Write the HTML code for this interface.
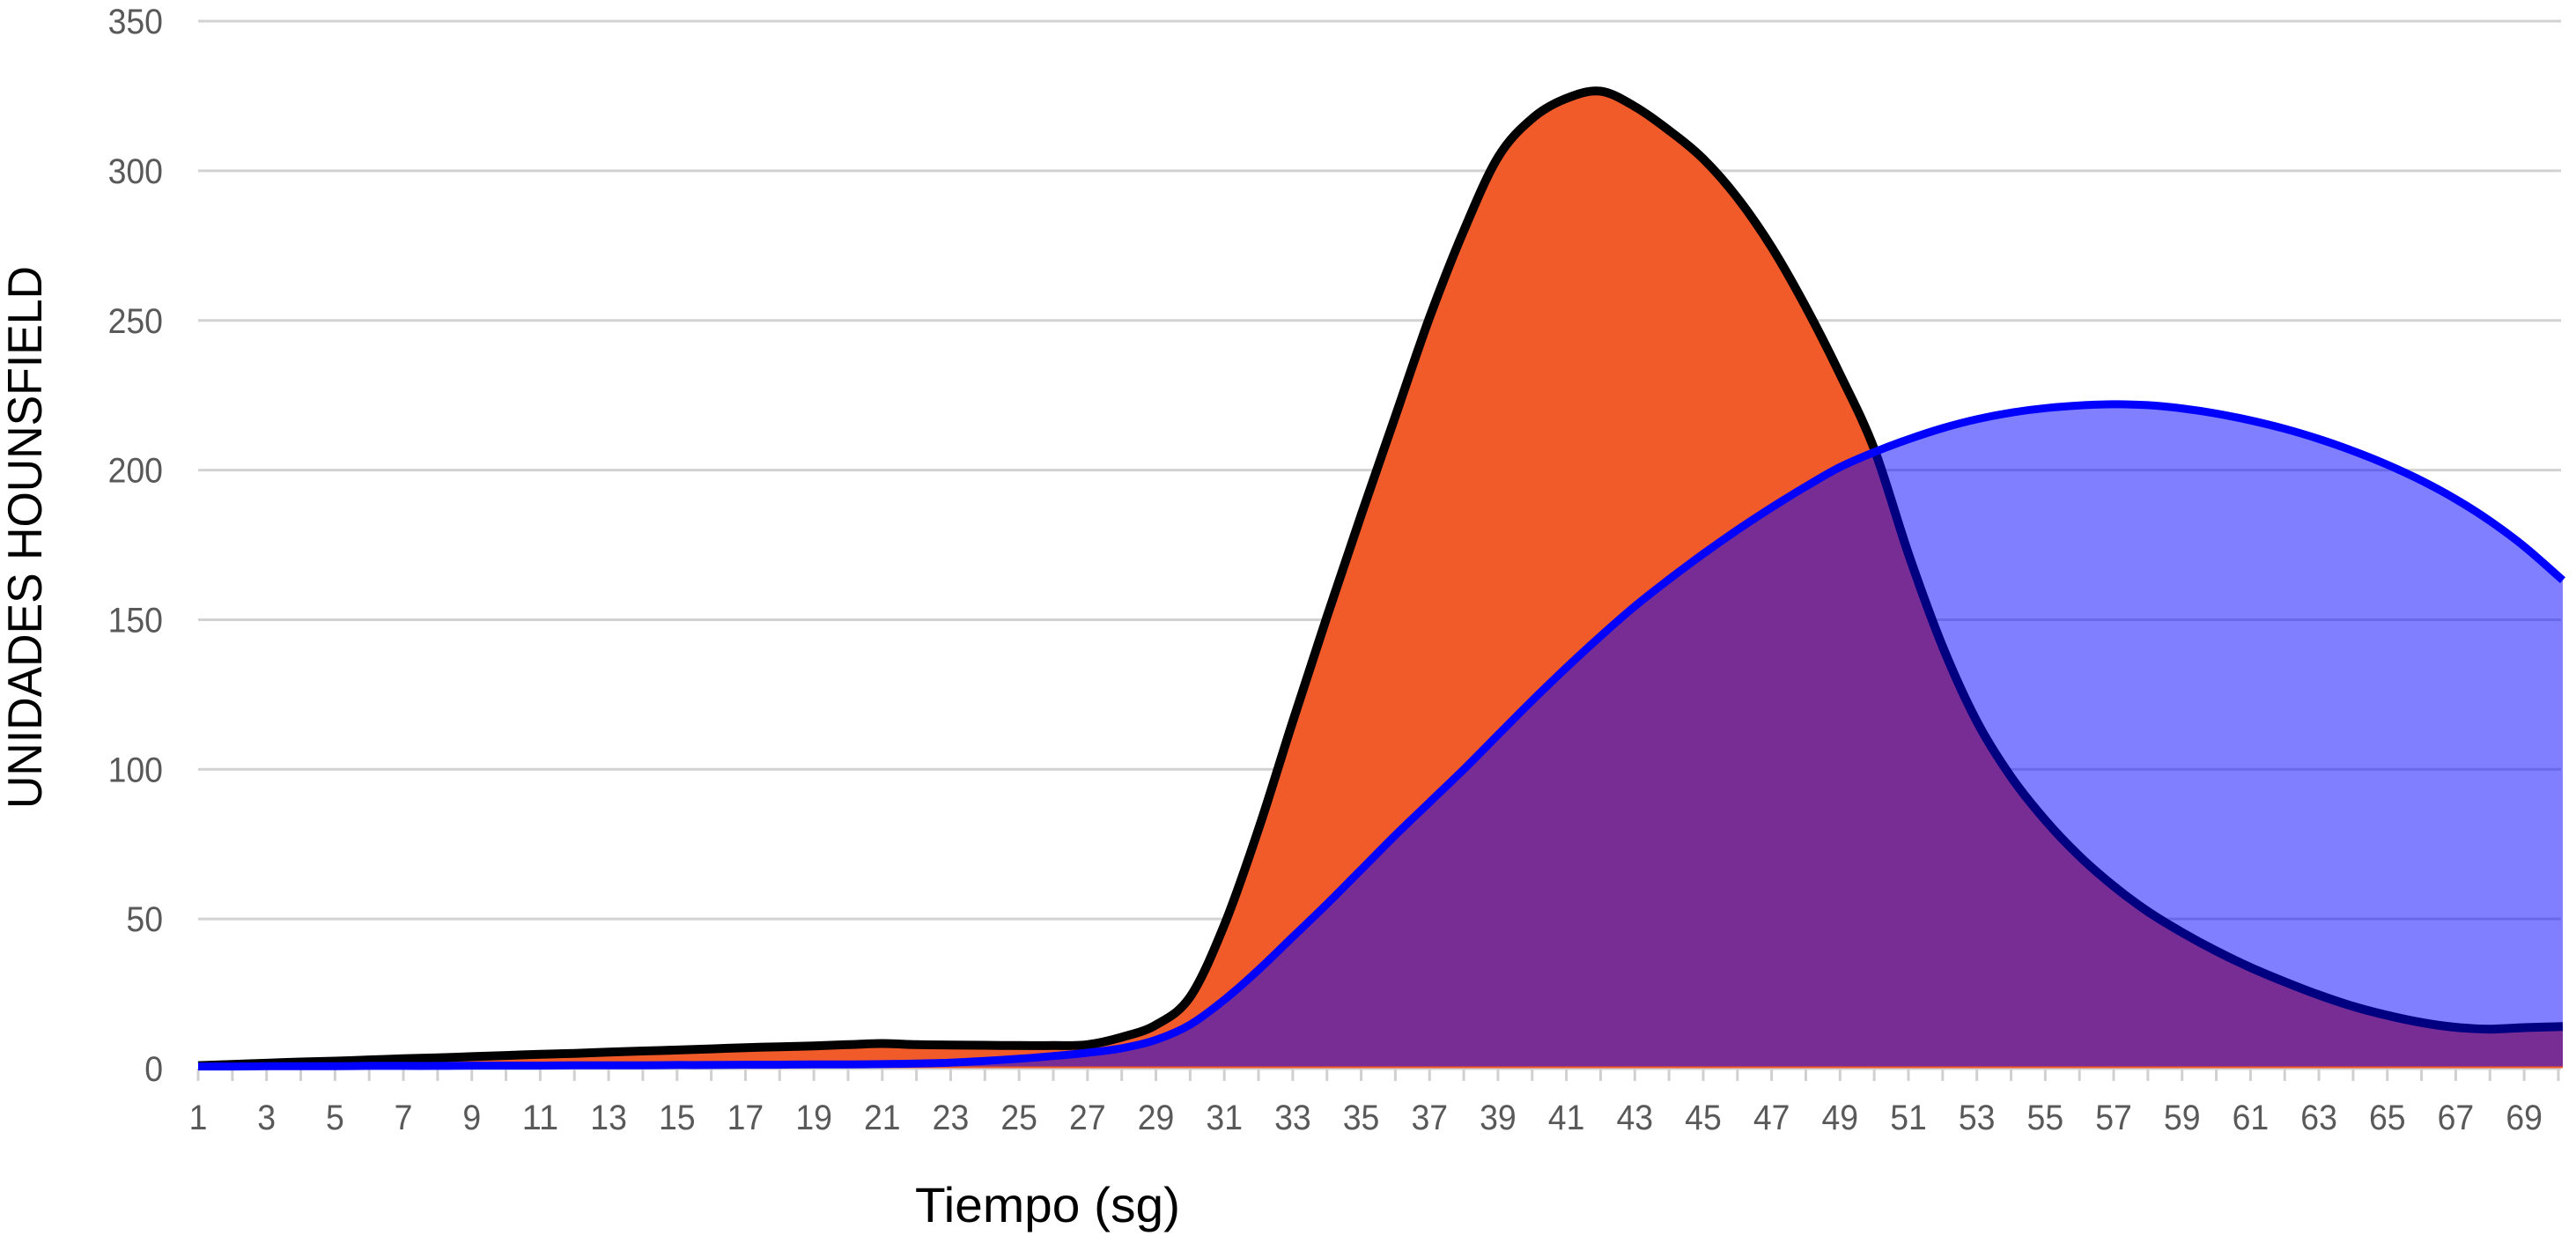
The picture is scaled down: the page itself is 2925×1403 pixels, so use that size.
<!DOCTYPE html>
<html lang="es">
<head>
<meta charset="utf-8">
<title>Unidades Hounsfield vs Tiempo</title>
<style>
  html, body { margin: 0; padding: 0; background: #ffffff; }
  svg { display: block; }
  text { font-family: "Liberation Sans", sans-serif; }
</style>
</head>
<body>
<svg id="chart" xmlns="http://www.w3.org/2000/svg" width="2925" height="1403" viewBox="0 0 2925 1403">
  <rect x="0" y="0" width="2925" height="1403" fill="#ffffff"/>
  <g id="grid"></g>
  <g id="yticks"></g>
  <g id="xticks"></g>
  <g id="xlabels"></g>
  <g id="series"></g>
  <text transform="translate(47,918) rotate(-90)" font-size="55" fill="#000000" textLength="616" lengthAdjust="spacingAndGlyphs">UNIDADES HOUNSFIELD</text>
  <text x="1039" y="1387" font-size="56" fill="#000000" textLength="301" lengthAdjust="spacingAndGlyphs">Tiempo (sg)</text>
</svg>
<script>
const yTickValues = [0, 50, 100, 150, 200, 250, 300, 350];
const categories = [1,2,3,4,5,6,7,8,9,10,11,12,13,14,15,16,17,18,19,20,21,22,23,24,25,26,27,28,29,30,31,32,33,34,35,36,37,38,39,40,41,42,43,44,45,46,47,48,49,50,51,52,53,54,55,56,57,58,59,60,61,62,63,64,65,66,67,68,69,70];
const arterialValues = [1.0,1.4,1.8,2.2,2.5,2.9,3.3,3.6,4.0,4.4,4.8,5.1,5.5,5.9,6.2,6.6,7.0,7.3,7.6,8.0,8.4,8.0,7.9,7.8,7.7,7.7,8.0,10.5,14.6,24,48,80,116,151,185,218,251,280,304.5,317.5,324.2,326.6,321.5,313.5,304,291,274.5,254.5,232,207,172,141,116,97.5,83,71,61,52.5,45.5,39.3,33.8,29,24.6,20.8,17.8,15.4,13.8,13.2,13.7,14];
const venousValues = [0.7,0.7,0.8,0.8,0.8,0.9,0.9,0.9,1.0,1.0,1.0,1.1,1.1,1.1,1.2,1.2,1.3,1.3,1.4,1.4,1.5,1.7,2.0,2.6,3.3,4.2,5.3,6.8,9.6,14.7,23,33,44,55,66.5,78,89,100,111.5,123,134,144.5,154.5,163.5,172,180,187.5,194.5,201,206,210.3,214,217,219.2,220.7,221.6,222,221.7,220.6,218.9,216.6,213.8,210.4,206.4,201.8,196.5,190.3,183,174.5,164.5];

const svgNS = 'http://www.w3.org/2000/svg';
const plotLeft = 225, plotRight = 2910, catStep = 38.84;
const baseY = 1213, unitPx = 3.397;
const digitWidth = 20.8;
const xOf = c => plotLeft + (c - categories[0]) * catStep;
const yOf = v => baseY - v * unitPx;

function make(tag, parentId, attrs, text) {
  const el = document.createElementNS(svgNS, tag);
  for (const k in attrs) el.setAttribute(k, attrs[k]);
  if (text !== undefined) el.textContent = text;
  document.getElementById(parentId).appendChild(el);
  return el;
}

function smoothPath(values) {
  const pts = values.map((v, i) => [xOf(categories[i]), yOf(v)]);
  let d = 'M' + pts[0][0].toFixed(1) + ' ' + pts[0][1].toFixed(1);
  for (let i = 0; i < pts.length - 1; i++) {
    const p0 = pts[Math.max(i - 1, 0)], p1 = pts[i], p2 = pts[i + 1], p3 = pts[Math.min(i + 2, pts.length - 1)];
    const c1x = p1[0] + (p2[0] - p0[0]) / 6, c1y = p1[1] + (p2[1] - p0[1]) / 6;
    const c2x = p2[0] - (p3[0] - p1[0]) / 6, c2y = p2[1] - (p3[1] - p1[1]) / 6;
    d += 'C' + c1x.toFixed(1) + ' ' + c1y.toFixed(1) + ' ' + c2x.toFixed(1) + ' ' + c2y.toFixed(1) + ' ' + p2[0].toFixed(1) + ' ' + p2[1].toFixed(1);
  }
  const last = pts[pts.length - 1], prev = pts[pts.length - 2];
  const endY = last[1] + (last[1] - prev[1]) * (plotRight - last[0]) / (last[0] - prev[0]);
  d += 'L' + plotRight + ' ' + endY.toFixed(1);
  return d;
}

yTickValues.forEach(v => {
  const g = make('line', 'grid', { x1: plotLeft, x2: plotRight - 2, y1: yOf(v), y2: yOf(v), stroke: '#d2d2d2', 'stroke-width': 3 });
  
  
  const s = String(v);
  const t = make('text', 'yticks', { x: 185, y: yOf(v) + 14, 'text-anchor': 'end', 'font-size': 40, fill: '#595959', textLength: s.length * digitWidth, lengthAdjust: 'spacingAndGlyphs' }, s);
  
  
});

categories.forEach((c, i) => {
  const tick = make('line', 'xticks', { x1: xOf(c), x2: xOf(c), y1: baseY, y2: baseY + 14, stroke: '#d0d0d0', 'stroke-width': 3 });
  
  
  if (i % 2 === 0) {
    const s = String(c);
    const lab = make('text', 'xlabels', { x: xOf(c), y: 1282, 'text-anchor': 'middle', 'font-size': 40, fill: '#595959', textLength: s.length * digitWidth, lengthAdjust: 'spacingAndGlyphs' }, s);
    
    
  }
});

const arterialPath = smoothPath(arterialValues);
const venousPath = smoothPath(venousValues);
const leftX = xOf(categories[0]);

const arterialArea = make('path', 'series', { d: arterialPath + 'L' + plotRight + ' ' + (baseY - 0.5) + 'L' + leftX + ' ' + (baseY - 0.5) + 'Z', fill: '#f15a29' });



const arterialLine = make('path', 'series', { d: arterialPath, fill: 'none', stroke: '#000000', 'stroke-width': 10, 'stroke-linejoin': 'round' });



const venousArea = make('path', 'series', { d: venousPath + 'L' + plotRight + ' ' + (baseY - 2.5) + 'L' + leftX + ' ' + (baseY - 2.5) + 'Z', fill: '#0000ff', 'fill-opacity': 0.5 });



const venousLine = make('path', 'series', { d: venousPath, fill: 'none', stroke: '#0000ff', 'stroke-width': 9, 'stroke-linejoin': 'round' });


</script>
</body>
</html>
